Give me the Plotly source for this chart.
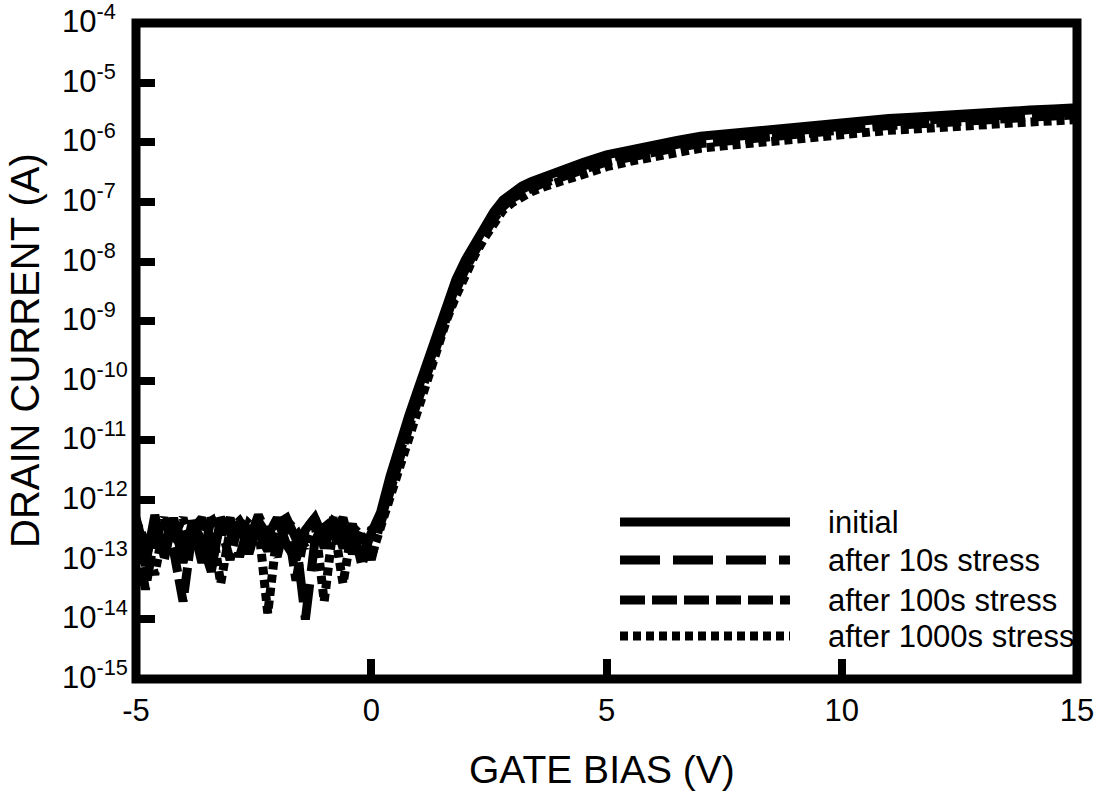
import plotly.graph_objects as go

# Gate bias sweep (V)
gate_bias = [
    -5.0, -4.8, -4.6, -4.4, -4.2, -4.0, -3.8, -3.6, -3.4, -3.2,
    -3.0, -2.8, -2.6, -2.4, -2.2, -2.0, -1.8, -1.6, -1.4, -1.2,
    -1.0, -0.8, -0.6, -0.4, -0.2, 0.0, 0.2,
    0.4, 0.6, 0.8, 1.0, 1.2, 1.4, 1.6, 1.8, 2.0, 2.2,
    2.4, 2.6, 2.8, 3.0, 3.2, 3.4, 3.6, 3.8, 4.0,
    4.5, 5.0, 5.5, 6.0, 6.5, 7.0, 7.5, 8.0, 8.5, 9.0,
    9.5, 10.0, 10.5, 11.0, 11.5, 12.0, 12.5, 13.0, 13.5, 14.0,
    14.5, 15.0,
]

# log10 of drain current (A) for each stress condition
log_id_initial = [
    -12.45, -13.10, -12.25, -12.95, -12.30, -13.05, -12.35, -12.70, -13.20, -12.30,
    -12.55, -12.40, -12.90, -12.35, -12.60, -12.30, -12.75, -13.00, -12.50, -12.30,
    -12.80, -12.35, -12.45, -12.70, -12.95, -12.55, -12.20,
    -11.60, -11.05, -10.58, -10.12, -9.65, -9.16, -8.68, -8.30, -7.97, -7.68,
    -7.42, -7.17, -6.97, -6.83, -6.735, -6.66, -6.595, -6.535, -6.48,
    -6.34, -6.21, -6.12, -6.04, -5.97, -5.90, -5.86, -5.82, -5.78, -5.74,
    -5.70, -5.67, -5.63, -5.60, -5.58, -5.55, -5.53, -5.51, -5.48, -5.46,
    -5.44, -5.42,
]

log_id_10s = [
    -12.30, -12.90, -12.40, -13.00, -12.25, -12.80, -12.40, -13.05, -12.30, -12.60,
    -12.30, -12.95, -12.40, -12.55, -12.85, -12.40, -12.30, -12.65, -14.00, -12.70,
    -12.35, -12.55, -12.30, -12.90, -12.45, -13.00, -12.35,
    -11.75, -11.17, -10.68, -10.22, -9.76, -9.27, -8.78, -8.40, -8.05, -7.75,
    -7.49, -7.23, -7.03, -6.89, -6.79, -6.71, -6.645, -6.585, -6.53,
    -6.40, -6.27, -6.18, -6.10, -6.03, -5.96, -5.92, -5.88, -5.84, -5.80,
    -5.76, -5.73, -5.69, -5.66, -5.64, -5.61, -5.59, -5.57, -5.54, -5.52,
    -5.50, -5.48,
]

log_id_100s = [
    -12.60, -13.50, -12.60, -12.30, -12.85, -13.70, -12.50, -12.30, -12.90, -12.45,
    -13.00, -12.30, -12.70, -12.25, -12.60, -12.95, -12.30, -13.35, -12.50, -12.30,
    -12.65, -12.30, -12.80, -12.40, -13.10, -12.50, -12.40,
    -11.85, -11.27, -10.78, -10.32, -9.85, -9.36, -8.88, -8.49, -8.13, -7.82,
    -7.55, -7.29, -7.08, -6.94, -6.84, -6.77, -6.705, -6.645, -6.59,
    -6.46, -6.33, -6.24, -6.16, -6.09, -6.02, -5.98, -5.94, -5.90, -5.86,
    -5.82, -5.79, -5.75, -5.72, -5.70, -5.67, -5.65, -5.63, -5.60, -5.58,
    -5.56, -5.54,
]

log_id_1000s = [
    -12.35, -12.70, -13.25, -12.40, -12.60, -12.30, -12.80, -12.45, -12.35, -13.40,
    -12.50, -12.35, -12.60, -12.40, -13.90, -12.55, -12.35, -12.50, -12.80, -12.35,
    -13.70, -12.40, -13.40, -12.45, -12.60, -12.95, -12.45,
    -11.95, -11.38, -10.89, -10.43, -9.96, -9.47, -8.98, -8.58, -8.21, -7.89,
    -7.61, -7.35, -7.14, -7.01, -6.91, -6.83, -6.765, -6.705, -6.66,
    -6.54, -6.41, -6.32, -6.24, -6.17, -6.10, -6.06, -6.02, -5.98, -5.94,
    -5.90, -5.87, -5.83, -5.80, -5.78, -5.75, -5.73, -5.71, -5.68, -5.66,
    -5.64, -5.62,
]

series_names = ["initial", "after 10s stress", "after 100s stress", "after 1000s stress"]
series_logs = [log_id_initial, log_id_10s, log_id_100s, log_id_1000s]
series_dash = ["solid", "40px,13px", "25px,7px", "8px,5px"]

x_ticks = [-5, 0, 5, 10, 15]
x_ticktext = ["-5", "0", "5", "10", "15"]
y_exponents = list(range(-15, -3))
y_ticks = [10.0 ** e for e in y_exponents]
y_ticktext = ["10<sup>%d</sup>" % e for e in y_exponents]

FONT = "Liberation Sans, Arial, sans-serif"
LINE_W = 9

# pixel geometry of the plotting area
PL, PR, PT, PB = 136, 1077, 23, 679
plot_w = PR - PL
plot_h = PB - PT


def px_x(px):
    return (px - PL) / plot_w


def px_y(py):
    return (PB - py) / plot_h


fig = go.Figure()

# stressed curves first so the initial curve sits on top
for name, logs, dash in reversed(list(zip(series_names, series_logs, series_dash))):
    fig.add_trace(go.Scatter(
        x=gate_bias,
        y=[10.0 ** v for v in logs],
        mode="lines",
        name=name,
        line=dict(color="black", width=LINE_W, dash=dash),
        showlegend=False,
    ))

# plot frame
shapes = [dict(type="rect", xref="paper", yref="paper", x0=0, x1=1, y0=0, y1=1,
               line=dict(color="black", width=9), layer="above")]

annotations = []

# legend with long line samples
legend_rows_px = [522, 560, 600, 636]
for name, dash, ypx in zip(series_names, series_dash, legend_rows_px):
    yp = px_y(ypx)
    shapes.append(dict(type="line", xref="paper", yref="paper",
                       x0=px_x(620), x1=px_x(790), y0=yp, y1=yp,
                       line=dict(color="black", width=LINE_W, dash=dash)))
    annotations.append(dict(text=name, xref="paper", yref="paper",
                            x=px_x(826), y=yp, xanchor="left", yanchor="middle",
                            showarrow=False, font=dict(family=FONT, size=31, color="black")))

# left-aligned decade labels on the current axis
for e, label in zip(y_exponents, y_ticktext):
    annotations.append(dict(text=label, xref="paper", yref="y",
                            x=px_x(60), y=e, xanchor="left", yanchor="middle",
                            yshift=4, showarrow=False,
                            font=dict(family=FONT, size=31, color="black")))

# axis titles
annotations.append(dict(text="GATE BIAS (V)", xref="paper", yref="paper",
                        x=px_x(602), y=px_y(769), xanchor="center", yanchor="middle",
                        showarrow=False, font=dict(family=FONT, size=39, color="black")))
annotations.append(dict(text="DRAIN CURRENT (A)", xref="paper", yref="paper",
                        x=px_x(25), y=0.5, xanchor="center", yanchor="middle",
                        textangle=-90, showarrow=False,
                        font=dict(family=FONT, size=40, color="black")))

fig.update_layout(
    width=1106, height=793,
    margin=dict(l=PL, r=1106 - PR, t=PT, b=793 - PB),
    paper_bgcolor="white", plot_bgcolor="white",
    font=dict(family=FONT, size=31, color="black"),
    shapes=shapes,
    annotations=annotations,
    showlegend=False,
)

fig.update_xaxes(
    range=[-5, 15], tickvals=x_ticks, ticktext=x_ticktext,
    ticks="inside", ticklen=20, tickwidth=8, tickcolor="black",
    showgrid=False, zeroline=False, showline=False,
    tickfont=dict(family=FONT, size=31, color="black"),
    ticklabelstandoff=10,
)
fig.update_yaxes(
    type="log", range=[-15, -4], tickvals=y_ticks,
    ticks="inside", ticklen=19, tickwidth=8, tickcolor="black",
    showgrid=False, zeroline=False, showline=False, showticklabels=False,
)

fig.write_html("out.html")
